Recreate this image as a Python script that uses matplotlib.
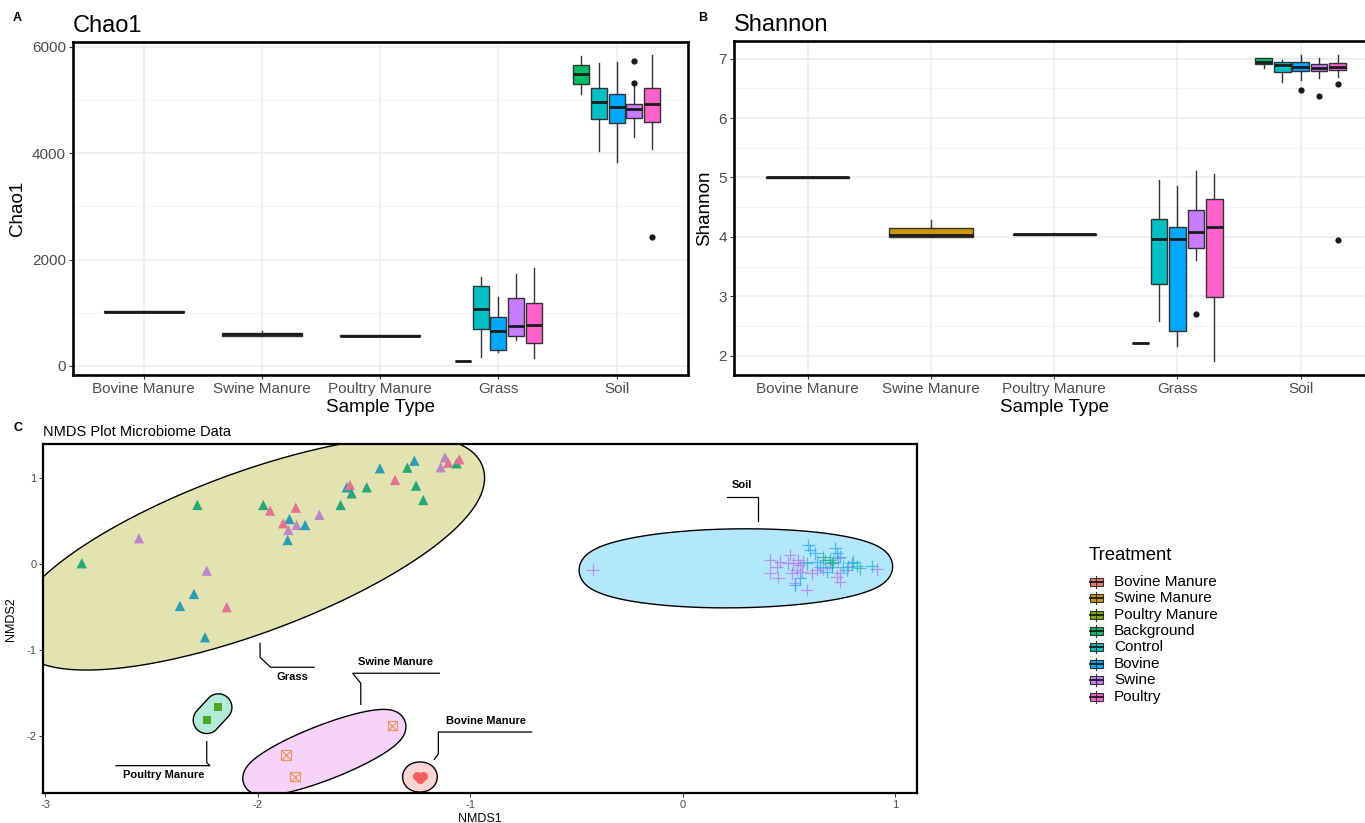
import numpy as np
import matplotlib
matplotlib.use("Agg")
import matplotlib.pyplot as plt
from matplotlib.patches import Polygon, Rectangle
from matplotlib.lines import Line2D
from matplotlib.colors import to_rgba

plt.rcParams['font.family'] = ['Liberation Sans', 'DejaVu Sans']
plt.rcParams['axes.unicode_minus'] = False

# ---------------- data ----------------
sites = ["Bovine Manure", "Swine Manure", "Poultry Manure", "Grass", "Soil"]
treatments = ["Bovine Manure", "Swine Manure", "Poultry Manure", "Background",
              "Control", "Bovine", "Swine", "Poultry"]
treat_colors = ["#F8766D", "#CD9600", "#7CAE00", "#00BE67",
                "#00BFC4", "#00A9FF", "#C77CFF", "#FF61CC"]

# one entry per box (site, treatment)
box_site = ["Bovine Manure", "Swine Manure", "Poultry Manure"] + ["Grass"] * 5 + ["Soil"] * 5
box_treat = ["Bovine Manure", "Swine Manure", "Poultry Manure",
             "Background", "Control", "Bovine", "Swine", "Poultry",
             "Background", "Control", "Bovine", "Swine", "Poultry"]

chao_lo = [1010, 561, 560, 88, 170, 252, 485, 139, 5114, 4047, 3840, 4299, 4073]
chao_q1 = [1012, 561, 563, 88, 700, 296, 561, 435, 5302, 4638, 4563, 4662, 4587]
chao_med = [1021, 592, 567, 88, 1071, 662, 750, 762, 5490, 4958, 4863, 4826, 4926]
chao_q3 = [1030, 624, 571, 88, 1506, 926, 1267, 1185, 5660, 5221, 5114, 4926, 5233]
chao_hi = [1032, 662, 572, 88, 1664, 1286, 1733, 1846, 5829, 5692, 5722, 5260, 5848]
chao_out = [[], [], [], [], [], [], [], [], [], [], [], [5327, 5735], [2420]]

sh_lo = [4.99, 3.995, 4.03, 2.22, 2.586, 2.169, 3.612, 1.915, 6.837, 6.61, 6.64, 6.67, 6.695]
sh_q1 = [4.995, 3.995, 4.035, 2.22, 3.206, 2.406, 3.804, 2.992, 6.91, 6.78, 6.795, 6.786, 6.81]
sh_med = [5.004, 4.029, 4.046, 2.22, 3.967, 3.956, 4.08, 4.165, 6.948, 6.892, 6.864, 6.847, 6.864]
sh_q3 = [5.01, 4.153, 4.055, 2.22, 4.30, 4.166, 4.458, 4.644, 7.005, 6.948, 6.948, 6.909, 6.92]
sh_hi = [5.015, 4.283, 4.06, 2.22, 4.959, 4.858, 5.106, 5.055, 7.02, 6.98, 7.06, 7.02, 7.06]
sh_out = [[], [], [], [], [], [], [2.693], [], [], [], [6.48], [6.37], [6.58, 3.95]]

# NMDS scores
grass_x = [-2.827, -2.558, -2.283, -2.239, -2.299, -2.365, -2.145, -2.247,
           -1.973, -1.941, -1.820, -1.850, -1.879, -1.816, -1.776, -1.855, -1.858,
           -1.709, -1.609, -1.580, -1.565, -1.557, -1.486, -1.424, -1.353, -1.295,
           -1.262, -1.254, -1.220, -1.118, -1.138, -1.102, -1.063, -1.050]
grass_y = [0.012, 0.303, 0.692, -0.074, -0.346, -0.486, -0.501, -0.851,
           0.691, 0.625, 0.660, 0.528, 0.478, 0.458, 0.458, 0.400, 0.283,
           0.575, 0.691, 0.897, 0.924, 0.827, 0.897, 1.119, 0.983, 1.126,
           1.207, 0.916, 0.749, 1.247, 1.131, 1.184, 1.177, 1.224]
grass_grp = ["G", "M", "G", "M", "T", "T", "P", "T",
             "G", "P", "P", "T", "P", "M", "T", "M", "T",
             "M", "G", "T", "P", "G", "G", "T", "P", "G",
             "T", "G", "G", "M", "M", "P", "G", "P"]

soil_x = [-0.423, 0.412, 0.412, 0.451, 0.443, 0.506, 0.522, 0.537, 0.553, 0.569, 0.584,
          0.529, 0.498, 0.545, 0.561, 0.608, 0.631, 0.663, 0.694, 0.733, 0.741,
          0.741, 0.725, 0.780, 0.914, 0.459, 0.514,
          0.592, 0.600, 0.624, 0.718, 0.725, 0.553, 0.529, 0.647, 0.678, 0.702,
          0.773, 0.804, 0.741, 0.631,
          0.796, 0.820, 0.835, 0.890, 0.710, 0.671, 0.757, 0.584,
          0.694, 0.702, 0.663]
soil_y = [-0.066, 0.050, -0.098, -0.156, -0.028, 0.108, 0.011, -0.066, -0.008, 0.031, -0.300,
          -0.222, 0.011, 0.050, -0.086, -0.105, -0.066, -0.047, 0.011, 0.070, -0.105,
          -0.202, -0.144, -0.028, -0.059, 0.031, -0.105,
          0.225, 0.167, 0.128, 0.186, 0.128, -0.164, -0.241, -0.028, -0.086, -0.028,
          -0.066, 0.031, 0.089, 0.031,
          0.011, -0.020, -0.047, -0.020, 0.031, 0.050, -0.028, 0.011,
          0.050, 0.011, 0.081]
soil_grp = ["M"] * 27 + ["B"] * 14 + ["T"] * 8 + ["G"] * 3

swine_x = [-1.866, -1.824, -1.366]
swine_y = [-2.223, -2.476, -1.881]
poultry_x = [-2.239, -2.184]
poultry_y = [-1.815, -1.667]
bovine_x = [-1.251, -1.220, -1.236]
bovine_y = [-2.470, -2.470, -2.497]

group_names = ["Bovine Manure", "Grass", "Poultry Manure", "Soil", "Swine Manure"]
group_fill = ["#F8766D", "#A3A500", "#00BF7D", "#00B0F6", "#E76BF3"]

grass_cols = {"T": "#2A9DB4", "G": "#27A67A", "P": "#E8718F", "M": "#BD86C6"}
soil_cols = {"M": "#B47AE8", "B": "#2FA6F0", "T": "#22B8C2", "G": "#1FAF7A"}

# ---------------- figure ----------------
fig = plt.figure(figsize=(13.65, 8.23), dpi=100)
W, H = 1365.0, 823.0


def px_axes(l, t, r, b):
    return fig.add_axes([l / W, 1 - b / H, (r - l) / W, (b - t) / H])


def dodge():
    pos, wid = [], []
    for k, s in enumerate(box_site):
        members = [i for i, ss in enumerate(box_site) if ss == s]
        n = len(members)
        j = members.index(k)
        slot = 0.75 / n
        pos.append(sites.index(s) + 1 + (j - (n - 1) / 2) * slot)
        wid.append(slot * 0.9)
    return pos, wid


def box_panel(ax, lo, q1, med, q3, hi, out, ylim, major, minor, title, ylab):
    stats = [dict(whislo=a, q1=b, med=c, q3=d, whishi=e, fliers=f)
             for a, b, c, d, e, f in zip(lo, q1, med, q3, hi, out)]
    pos, wid = dodge()
    for y in minor:
        ax.axhline(y, color="#F2F2F2", lw=0.6, zorder=0)
    for y in major:
        ax.axhline(y, color="#EBEBEB", lw=1.1, zorder=0)
    for x in range(1, len(sites) + 1):
        ax.axvline(x, color="#EBEBEB", lw=1.1, zorder=0)
    bp = ax.bxp(stats, positions=pos, widths=wid, patch_artist=True, showcaps=False,
                boxprops=dict(edgecolor="#333333", linewidth=1.0),
                medianprops=dict(color="#1A1A1A", linewidth=2.0),
                whiskerprops=dict(color="#333333", linewidth=1.0),
                flierprops=dict(marker="o", markerfacecolor="#1A1A1A",
                                markeredgecolor="none", markersize=4.5))
    for patch, t in zip(bp["boxes"], box_treat):
        patch.set_facecolor(treat_colors[treatments.index(t)])
    ax.set_xlim(0.4, 5.6)
    ax.set_ylim(*ylim)
    ax.set_xticks(range(1, len(sites) + 1))
    ax.set_xticklabels(sites)
    ax.set_yticks(major)
    ax.tick_params(labelsize=11, labelcolor="#4D4D4D", color="#333333",
                   length=3, width=0.8, pad=2)
    for sp in ax.spines.values():
        sp.set_linewidth(1.9)
        sp.set_color("black")
    ax.set_xlabel("Sample Type", fontsize=13.5, labelpad=2)
    ax.set_ylabel(ylab, fontsize=13.5, labelpad=4)
    ax.set_title(title, loc="left", fontsize=17, pad=7)


axA = px_axes(72.8, 41.9, 687.5, 375.2)
box_panel(axA, chao_lo, chao_q1, chao_med, chao_q3, chao_hi, chao_out,
          (-176, 6094), [0, 2000, 4000, 6000], [1000, 3000, 5000], "Chao1", "Chao1")

axB = px_axes(733.9, 40.9, 1374.6, 375.0)
box_panel(axB, sh_lo, sh_q1, sh_med, sh_q3, sh_hi, sh_out,
          (1.673, 7.30), [2, 3, 4, 5, 6, 7], [2.5, 3.5, 4.5, 5.5, 6.5], "Shannon", "Shannon")

fig.text(13 / W, 1 - 18 / H, "A", fontsize=9, fontweight="bold", va="center")
fig.text(698 / W, 1 - 18 / H, "B", fontsize=9, fontweight="bold", va="center")
fig.text(13 / W, 1 - 428 / H, "C", fontsize=9, fontweight="bold", va="center")

# ---------------- NMDS ----------------
axC = px_axes(43.3, 444.0, 916.7, 793.3)
axC.set_xlim(-3.008, 1.102)
axC.set_ylim(-2.669, 1.402)
axC.set_xticks([-3, -2, -1, 0, 1])
axC.set_yticks([-2, -1, 0, 1])
axC.tick_params(labelsize=8, labelcolor="#4D4D4D", color="#333333", length=3, width=0.7, pad=2)
for sp in axC.spines.values():
    sp.set_linewidth(1.6)
    sp.set_color("black")
axC.set_xlabel("NMDS1", fontsize=9, labelpad=2)
axC.set_ylabel("NMDS2", fontsize=9, labelpad=7)
axC.set_title("NMDS Plot Microbiome Data", loc="left", fontsize=10.5, pad=6)


def min_ellipse(P, tol=1e-8, max_iter=20000):
    n, d = P.shape
    Q = np.vstack([P.T, np.ones(n)])
    u = np.full(n, 1.0 / n)
    for _ in range(max_iter):
        X = (Q * u) @ Q.T
        M = np.sum(Q * np.linalg.solve(X, Q), axis=0)
        j = np.argmax(M)
        step = (M[j] - d - 1.0) / ((d + 1.0) * (M[j] - 1.0))
        new_u = (1 - step) * u
        new_u[j] += step
        done = np.linalg.norm(new_u - u) < tol
        u = new_u
        if done:
            break
    c = u @ P
    S = (P * u[:, None]).T @ P - np.outer(c, c)
    A = np.linalg.inv(S) / d
    vals, vecs = np.linalg.eigh(A)
    t = np.linspace(0, 2 * np.pi, 400, endpoint=False)
    circ = np.vstack([np.cos(t), np.sin(t)]) / np.sqrt(vals)[:, None]
    return c + (vecs @ circ).T


def mark_ellipse(ax, xs, ys, fill, expand=13.5):
    pix = ax.transData.transform(np.column_stack([xs, ys]))
    base = min_ellipse(pix) if len(xs) > 2 else pix
    ang = np.linspace(0, 2 * np.pi, 360, endpoint=False)
    U = np.column_stack([np.cos(ang), np.sin(ang)])
    idx = np.argmax(base @ U.T, axis=0)
    shape = base[idx] + expand * U
    shape = ax.transData.inverted().transform(shape)
    ax.add_patch(Polygon(shape, closed=True, facecolor=to_rgba(fill, 0.3),
                         edgecolor="black", lw=1.0, zorder=1))


groups = {"Bovine Manure": (bovine_x, bovine_y), "Grass": (grass_x, grass_y),
          "Poultry Manure": (poultry_x, poultry_y), "Soil": (soil_x, soil_y),
          "Swine Manure": (swine_x, swine_y)}
for name, col in zip(group_names, group_fill):
    gx, gy = groups[name]
    mark_ellipse(axC, gx, gy, col)

axC.scatter(grass_x, grass_y, marker="^", s=55, c=[grass_cols[g] for g in grass_grp],
            linewidths=0, zorder=3)
axC.scatter(soil_x, soil_y, marker="+", s=85, c=[soil_cols[g] for g in soil_grp],
            linewidths=0.9, alpha=0.75, zorder=3)
axC.scatter(swine_x, swine_y, marker="s", s=46, facecolors="none", edgecolors="#E39A5C",
            linewidths=0.9, zorder=3)
axC.scatter(swine_x, swine_y, marker="x", s=46, c="#E39A5C", linewidths=0.9, zorder=3)
axC.scatter(poultry_x, poultry_y, marker="s", s=40, c="#4CA81E", linewidths=0, zorder=3)
axC.scatter(bovine_x, bovine_y, marker="o", s=42, c="#F25F5C", linewidths=0, zorder=3)

# group labels with elbow connectors
labels = [
    ("Grass", (-1.835, -1.310), [-1.988, -1.988, -1.938, -1.734], [-0.921, -1.084, -1.200, -1.200]),
    ("Swine Manure", (-1.350, -1.135), [-1.514, -1.514, -1.552, -1.144], [-1.632, -1.387, -1.270, -1.270]),
    ("Poultry Manure", (-2.443, -2.459), [-2.239, -2.239, -2.224, -2.666], [-2.068, -2.312, -2.347, -2.347]),
    ("Bovine Manure", (-0.927, -1.826), [-1.168, -1.149, -1.149, -0.710], [-2.273, -2.211, -1.955, -1.955]),
    ("Soil", (0.281, 0.924), [0.208, 0.357, 0.357], [0.788, 0.788, 0.508]),
]
for txt, (tx, ty), lx, ly in labels:
    axC.plot(lx, ly, color="black", lw=0.9, zorder=4)
    axC.text(tx, ty, txt, fontsize=8, fontweight="bold", ha="center", va="center", zorder=4)

# ---------------- legend ----------------
fig.text(1089 / W, 1 - 555 / H, "Treatment", fontsize=13.3, va="center", ha="left")
for i, (name, col) in enumerate(zip(treatments, treat_colors)):
    yc = 581.7 + 16.4 * i
    fig.add_artist(Line2D([1096 / W, 1096 / W], [1 - (yc - 6) / H, 1 - (yc + 6) / H],
                          transform=fig.transFigure, color="#333333", lw=0.8))
    fig.add_artist(Rectangle((1089.5 / W, 1 - (yc + 4) / H), 13 / W, 8 / H,
                             transform=fig.transFigure, facecolor=col,
                             edgecolor="#333333", lw=0.8))
    fig.add_artist(Line2D([1089.5 / W, 1102.5 / W], [1 - yc / H, 1 - yc / H],
                          transform=fig.transFigure, color="#1A1A1A", lw=1.3))
    fig.text(1114 / W, 1 - yc / H, name, fontsize=11, va="center", ha="left")

fig.savefig("out.png", dpi=100)
